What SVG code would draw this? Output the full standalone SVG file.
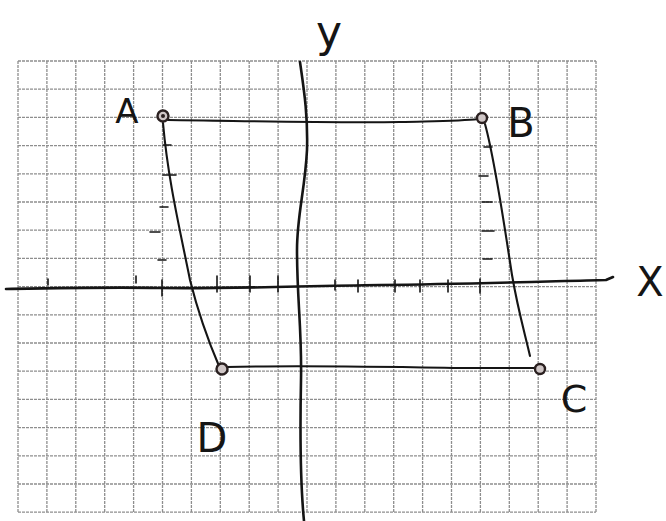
<svg xmlns="http://www.w3.org/2000/svg" width="666" height="521" viewBox="0 0 666 521">
<style>
.grid{stroke:#8e8e8e;stroke-width:1.3;stroke-dasharray:3 1;fill:none}
.ink{stroke:#151515;fill:none;stroke-linecap:round;stroke-linejoin:round}
.axis{stroke-width:2.6}
.edge{stroke-width:2.1}
.tick{stroke-width:1.6}
.pt{stroke:#2a2020;stroke-width:2.4;fill:#cfc6c6}
.lbl{font-family:"DejaVu Sans","Liberation Sans",sans-serif;font-weight:400;fill:#151515}
</style>
<rect width="666" height="521" fill="#ffffff"/>
<g id="grid">
<path class="grid" d="M18 61V512M46.9 61V512M75.8 61V512M104.7 61V512M133.6 61V512M162.5 61V512M191.4 61V512M220.3 61V512M249.2 61V512M278.1 61V512M307 61V512M335.9 61V512M364.8 61V512M393.7 61V512M422.6 61V512M451.5 61V512M480.4 61V512M509.3 61V512M538.2 61V512M567.1 61V512M596 61V512"/>
<path class="grid" d="M18 61H596M18 89.2H596M18 117.4H596M18 145.6H596M18 173.8H596M18 202H596M18 230.2H596M18 258.4H596M18 286.6H596M18 314.8H596M18 343H596M18 371.2H596M18 399.4H596M18 427.6H596M18 455.8H596M18 484H596M18 512.2H596"/>
</g>
<g id="axes">
<path class="ink axis" d="M6 289C60 288 110 287 160 288C230 289 300 286 380 285C470 284 560 281 606 280L613 277"/>
<path class="ink axis" d="M300 62C304 90 308 115 307 150C305 190 297 215 297 250C297 300 302 330 301 380C300 430 300 480 304 521"/>
<path class="ink tick" d="M48 279V285M136 276V283M162 280V296M217 276V292M250 276V292M278 276V292M335 280V290M358 280V292M395 280V292M420 280V292M448 280V292M480 279V293"/>
<path class="ink tick" d="M163 145H171M163 175H176M160 207H168M150 232H160M158 260H166M484 147H492M479 176H488M482 202H492M482 231H494M483 259H492"/>
</g>
<g id="connectors">
<path class="ink edge" d="M168 120C250 121 330 123 400 122C440 121 462 121 478 119"/>
<path class="ink edge" d="M163 123C168 180 180 230 190 280C200 320 210 345 219 366"/>
<path class="ink edge" d="M485 124C495 160 505 230 512 275C518 310 524 330 530 356"/>
<path class="ink edge" d="M227 367C300 365 400 367 460 368C495 368 520 368 535 368"/>
</g>
<g id="node-A">
<circle class="pt" cx="163" cy="116" r="5.5"/>
<circle cx="163" cy="116" r="2" fill="#2a2020"/>
<text class="lbl" x="127" y="123" font-size="34" text-anchor="middle">A</text>
</g>
<g id="node-B">
<circle class="pt" cx="482" cy="118" r="5"/>
<text class="lbl" x="521" y="137" font-size="40" text-anchor="middle">B</text>
</g>
<g id="node-C">
<circle class="pt" cx="540" cy="369" r="5"/>
<text class="lbl" x="574" y="412" font-size="38" text-anchor="middle">C</text>
</g>
<g id="node-D">
<circle class="pt" cx="222" cy="369" r="5.5"/>
<text class="lbl" x="212" y="452" font-size="40" text-anchor="middle">D</text>
</g>
<g id="labels">
<text class="lbl" x="650" y="296" font-size="40" text-anchor="middle">X</text>
<text class="lbl" x="329" y="47" font-size="44" text-anchor="middle">y</text>
</g>
</svg>
